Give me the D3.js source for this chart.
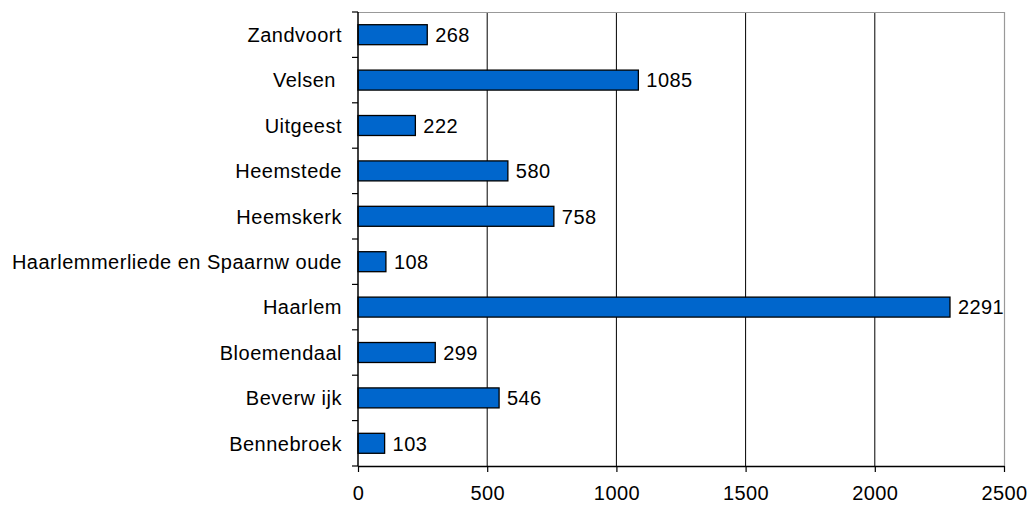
<!DOCTYPE html>
<html>
<head>
<meta charset="utf-8">
<script src="https://cdn.jsdelivr.net/npm/d3@7"></script>
<style>
  body { margin: 0; background: #fff; }
  text { font-family: "Liberation Sans", Arial, sans-serif; fill: #000; }
</style>
</head>
<body>
<div id="chart"></div>
<script>
// data, top to bottom as in the chart
const gemeenten = ["Zandvoort", "Velsen ", "Uitgeest", "Heemstede", "Heemskerk",
  "Haarlemmerliede en Spaarnw oude", "Haarlem", "Bloemendaal", "Beverw ijk", "Bennebroek"];
const aantallen = [268, 1085, 222, 580, 758, 108, 2291, 299, 546, 103];
const xTicks = [0, 500, 1000, 1500, 2000, 2500];

const width = 1031, height = 506;
const margin = {top: 12, right: 27, bottom: 40, left: 358};

const svg = d3.select("#chart").append("svg")
    .attr("width", width)
    .attr("height", height);

const x = d3.scaleLinear()
    .domain([0, 2500])
    .range([margin.left, width - margin.right]);

const y = d3.scaleBand()
    .domain(gemeenten)
    .range([margin.top, height - margin.bottom])
    .paddingInner(0.56)
    .paddingOuter(0.28);

const yTop = margin.top, yBottom = height - margin.bottom;
const xLeft = margin.left, xRight = width - margin.right;

// gridlines
svg.append("g")
  .selectAll("line")
  .data(xTicks.slice(1, -1))
  .enter().append("line")
    .attr("x1", d => x(d)).attr("x2", d => x(d))
    .attr("y1", yTop).attr("y2", yBottom)
    .attr("stroke", "#000").attr("stroke-width", 1);

// frame (top + right grey)
svg.append("path")
    .attr("d", `M${xLeft},${yTop + 0.5}H${xRight + 0.5}V${yBottom}`)
    .attr("fill", "none")
    .attr("stroke", "#999")
    .attr("stroke-width", 1.2);

// bars
svg.append("g")
  .selectAll("rect")
  .data(aantallen)
  .enter().append("rect")
    .attr("x", x(0))
    .attr("y", (d, i) => y(gemeenten[i]))
    .attr("width", d => x(d) - x(0))
    .attr("height", y.bandwidth())
    .attr("fill", "#0066CC")
    .attr("stroke", "#000")
    .attr("stroke-width", 1.3);

// value labels
svg.append("g")
  .selectAll("text")
  .data(aantallen)
  .enter().append("text")
    .attr("x", d => x(d) + 8)
    .attr("y", (d, i) => y(gemeenten[i]) + y.bandwidth() / 2)
    .attr("dy", "0.36em")
    .style("font-size", "20px")
    .style("letter-spacing", "0.4px")
    .text(d => d);

// left axis
const band = (yBottom - yTop) / gemeenten.length;
const yAxis = svg.append("g");
yAxis.append("line")
    .attr("x1", xLeft).attr("x2", xLeft)
    .attr("y1", yTop).attr("y2", yBottom)
    .attr("stroke", "#000").attr("stroke-width", 1.5);
yAxis.selectAll(".tick")
  .data(d3.range(gemeenten.length + 1))
  .enter().append("line")
    .attr("x1", xLeft - 6).attr("x2", xLeft)
    .attr("y1", i => yTop + i * band).attr("y2", i => yTop + i * band)
    .attr("stroke", "#000").attr("stroke-width", 1.2);
yAxis.selectAll("text")
  .data(gemeenten)
  .enter().append("text")
    .attr("x", xLeft - 16)
    .attr("y", d => y(d) + y.bandwidth() / 2)
    .attr("dy", "0.36em")
    .attr("text-anchor", "end")
    .style("font-size", "20px")
    .style("letter-spacing", "0.5px")
    .style("white-space", "pre")
    .text(d => d);

// bottom axis
const xAxis = svg.append("g")
    .attr("transform", `translate(0,${yBottom})`)
    .call(d3.axisBottom(x).tickValues(xTicks).tickFormat(d3.format("d"))
      .tickSize(6).tickPadding(14).tickSizeOuter(0));
xAxis.select(".domain").attr("stroke", "#000").attr("stroke-width", 1.5);
xAxis.selectAll(".tick line").attr("stroke", "#000").attr("stroke-width", 1.2);
xAxis.selectAll(".tick text")
    .style("font-size", "20px")
    .style("letter-spacing", "0.4px")
    .style("font-family", "Liberation Sans, Arial, sans-serif");
</script>
</body>
</html>
